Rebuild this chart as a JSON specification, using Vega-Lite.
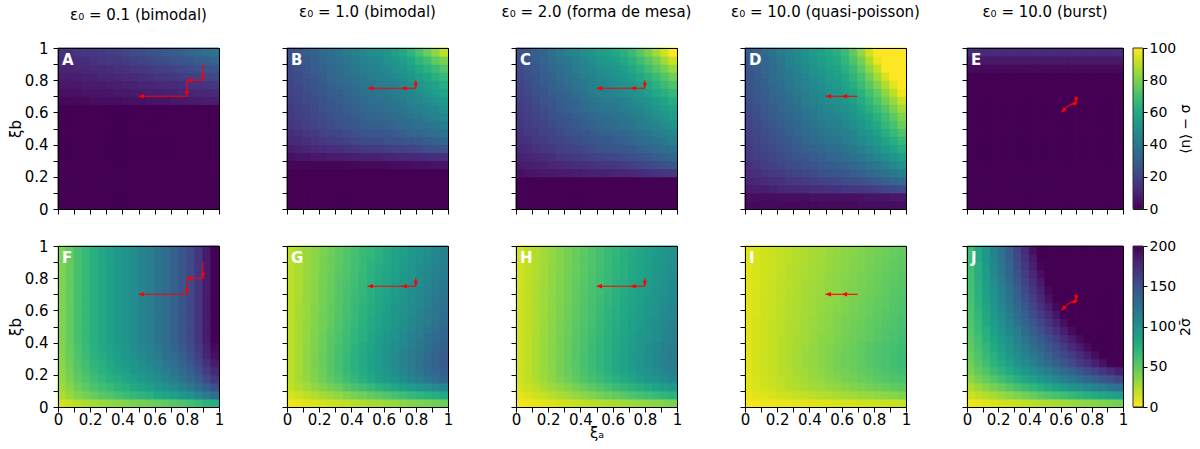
{
"$schema":"https://vega.github.io/schema/vega-lite/v6.json",
"background":"white",
"padding":{"left":7,"top":4,"right":5,"bottom":5},
"config":{
 "font":"DejaVu Sans",
 "view":{"stroke":"black","strokeWidth":1},
 "axis":{"domainColor":"black","tickColor":"black","labelColor":"black","labelFont":"DejaVu Sans","labelFontSize":15,"titleFont":"DejaVu Sans","titleFontSize":15,"titleFontWeight":"normal","titleColor":"black","tickSize":5,"labelPadding":3,"labelFlush":false,"labelOverlap":false,"grid":false},
 "axisX":{"labelPadding":0},
 "axisY":{"labelPadding":5},
 "title":{"font":"DejaVu Sans","fontSize":15,"fontWeight":"normal","color":"black","baseline":"alphabetic","offset":28}
},
"datasets":{
"grid":[
{"p":"A","j":0,"v":[0,0,0,0,0,0,0,0,0,0,0,0,0,0,0,0,0,0,0,0]},
{"p":"A","j":1,"v":[0,0,0,0,0,0,0,0,0,0,0,0,0,0,0,0,0,0,0,0]},
{"p":"A","j":2,"v":[0,0,0,0,0,0,0,0,0,0,0,0,0,0,0,0,0,0,0,0]},
{"p":"A","j":3,"v":[0,0,0,0,0,0,0,0,0,0,0,0,0,0,0,0,0,0,0,0]},
{"p":"A","j":4,"v":[0,0,0,0,0,0,0,0,0,0,0,0,0,0,0,0,0,0,0,0]},
{"p":"A","j":5,"v":[0,0,0,0,0,0,0,0,0,0,0,0,0,0,0,0,0,0,0,0]},
{"p":"A","j":6,"v":[0,0,0,0,0,0,0,0,0,0,0,0,0,0,0,0,0,0,0,0]},
{"p":"A","j":7,"v":[0,0,0,0,0,0,0,0,0,0,0,0,0,0,0,0,0,0,0,0]},
{"p":"A","j":8,"v":[0,0,0,0,0,0,0,0,0,0,0,0,0,0,0,0,0,0,0,0]},
{"p":"A","j":9,"v":[0,0,0,0,0,0,0,0,0,0,0,0,0,0,0,0,0,0,0,0]},
{"p":"A","j":10,"v":[0,0,0,0,0,0,0,0,0,0,0,0,0,0,0,0,0,0,0,0]},
{"p":"A","j":11,"v":[0,0,0,0,0,0,0,0,0,0,0,0,0,0,0,0,0,0,0,0]},
{"p":"A","j":12,"v":[0,0,0,0,0,0,0,0,0,0,0,0,0,0,0,0,0,0,0,0]},
{"p":"A","j":13,"v":[2,2,2,2,3,3,3,3,4,4,4,5,5,5,6,6,7,7,8,8]},
{"p":"A","j":14,"v":[4,4,4,5,5,5,5,6,6,7,7,8,8,9,9,10,10,11,11,12]},
{"p":"A","j":15,"v":[6,6,6,7,7,7,8,8,9,9,10,10,11,12,12,13,14,14,15,16]},
{"p":"A","j":16,"v":[8,8,8,9,9,10,10,11,12,12,13,14,15,15,16,17,18,19,20,21]},
{"p":"A","j":17,"v":[10,10,11,11,12,12,13,14,14,15,16,17,18,19,20,21,22,24,25,26]},
{"p":"A","j":18,"v":[12,12,13,13,14,15,16,16,17,19,20,21,22,23,25,26,27,29,30,32]},
{"p":"A","j":19,"v":[14,14,15,16,16,17,18,19,21,22,23,25,26,28,29,31,33,34,36,38]},
{"p":"B","j":0,"v":[0,0,0,0,0,0,0,0,0,0,0,0,0,0,0,0,0,0,0,0]},
{"p":"B","j":1,"v":[0,0,0,0,0,0,0,0,0,0,0,0,0,0,0,0,0,0,0,0]},
{"p":"B","j":2,"v":[0,0,0,0,0,0,0,0,0,0,0,0,0,0,0,0,0,0,0,0]},
{"p":"B","j":3,"v":[0,0,0,0,0,0,0,0,0,0,0,0,0,0,0,0,0,0,0,0]},
{"p":"B","j":4,"v":[0,0,0,0,0,0,0,0,0,0,0,0,0,0,0,0,0,0,0,0]},
{"p":"B","j":5,"v":[1,1,1,1,1,1,1,1,2,2,2,2,2,3,3,3,4,4,5,5]},
{"p":"B","j":6,"v":[4,5,5,6,6,7,7,8,8,9,9,9,10,10,11,11,12,12,13,14]},
{"p":"B","j":7,"v":[8,9,10,11,12,13,13,14,15,16,17,17,18,19,19,20,21,23,24,25]},
{"p":"B","j":8,"v":[11,12,13,15,16,17,18,19,21,22,23,23,24,25,26,27,28,29,31,32]},
{"p":"B","j":9,"v":[13,14,16,17,19,20,21,23,24,26,27,27,28,29,30,32,33,35,36,38]},
{"p":"B","j":10,"v":[15,17,18,20,21,23,24,26,27,29,30,30,31,32,34,35,37,38,40,42]},
{"p":"B","j":11,"v":[16,18,19,21,22,24,26,27,29,30,32,33,34,35,36,38,40,42,44,46]},
{"p":"B","j":12,"v":[17,19,20,22,24,26,27,29,31,32,34,35,36,37,39,41,43,45,47,50]},
{"p":"B","j":13,"v":[18,20,22,23,25,27,29,31,32,34,36,37,38,40,41,44,46,48,51,54]},
{"p":"B","j":14,"v":[19,21,23,25,27,29,30,32,34,36,38,39,40,42,44,46,49,52,55,58]},
{"p":"B","j":15,"v":[20,22,24,26,28,30,32,34,36,38,40,41,42,44,47,49,52,55,58,62]},
{"p":"B","j":16,"v":[21,23,25,27,29,32,34,36,38,40,42,43,45,47,49,52,56,59,63,67]},
{"p":"B","j":17,"v":[22,24,26,29,31,33,35,37,40,42,44,45,47,50,53,56,60,64,68,73]},
{"p":"B","j":18,"v":[23,25,28,30,32,35,37,39,41,44,46,47,50,53,56,60,65,69,75,80]},
{"p":"B","j":19,"v":[24,26,29,31,34,36,38,41,43,46,48,50,52,56,60,65,71,77,83,90]},
{"p":"C","j":0,"v":[0,0,0,0,0,0,0,0,0,0,0,0,0,0,0,0,0,0,0,0]},
{"p":"C","j":1,"v":[0,0,0,0,0,0,0,0,0,0,0,0,0,0,0,0,0,0,0,0]},
{"p":"C","j":2,"v":[0,0,0,0,0,0,0,0,0,0,0,0,0,0,0,0,0,0,0,0]},
{"p":"C","j":3,"v":[0,0,0,0,0,0,0,0,0,0,0,0,0,0,0,0,0,0,0,0]},
{"p":"C","j":4,"v":[4,5,5,6,6,7,7,8,8,9,9,9,10,10,11,12,13,14,15,16]},
{"p":"C","j":5,"v":[7,8,9,9,10,11,12,13,13,14,15,15,16,17,18,20,21,23,24,26]},
{"p":"C","j":6,"v":[9,10,11,12,13,15,16,17,18,19,20,21,21,23,24,25,27,29,31,33]},
{"p":"C","j":7,"v":[11,12,14,15,16,18,19,20,21,23,24,25,26,27,28,30,32,34,36,38]},
{"p":"C","j":8,"v":[13,14,16,17,19,20,21,23,24,26,27,28,29,30,32,34,36,38,40,43]},
{"p":"C","j":9,"v":[14,16,17,19,20,22,24,25,27,28,30,31,32,33,35,37,39,42,44,47]},
{"p":"C","j":10,"v":[15,17,19,20,22,24,26,28,29,31,33,34,35,37,38,41,43,45,48,51]},
{"p":"C","j":11,"v":[16,18,20,22,24,26,27,29,31,33,35,36,37,39,41,43,46,49,52,55]},
{"p":"C","j":12,"v":[17,19,21,23,25,28,30,32,34,36,38,39,40,42,44,46,49,52,55,58]},
{"p":"C","j":13,"v":[18,20,22,25,27,29,31,33,36,38,40,41,42,44,47,49,52,55,58,62]},
{"p":"C","j":14,"v":[19,21,24,26,29,31,33,36,38,41,43,44,46,48,50,53,56,60,63,67]},
{"p":"C","j":15,"v":[20,23,25,28,30,33,35,38,40,43,45,46,48,50,53,56,60,64,68,72]},
{"p":"C","j":16,"v":[21,24,26,29,31,34,37,39,42,44,47,48,50,53,56,60,64,68,73,78]},
{"p":"C","j":17,"v":[22,25,27,30,33,36,38,41,44,46,49,50,53,56,60,64,69,74,79,85]},
{"p":"C","j":18,"v":[23,26,29,32,35,38,40,43,46,49,52,54,56,60,64,69,74,79,86,92]},
{"p":"C","j":19,"v":[24,27,30,33,36,40,43,46,49,52,55,57,60,64,68,74,80,86,93,100]},
{"p":"D","j":0,"v":[2,2,2,2,2,2,2,2,2,2,2,2,2,2,3,3,3,3,3,3]},
{"p":"D","j":1,"v":[3,3,3,3,3,3,3,3,4,4,4,4,4,4,4,5,5,5,6,6]},
{"p":"D","j":2,"v":[7,8,8,9,10,11,11,12,13,13,14,14,15,16,16,17,18,20,21,22]},
{"p":"D","j":3,"v":[10,11,12,13,14,15,16,17,18,19,20,21,22,23,24,26,28,30,32,34]},
{"p":"D","j":4,"v":[12,13,15,16,17,19,20,21,22,24,25,26,27,29,30,33,35,37,40,43]},
{"p":"D","j":5,"v":[14,16,17,19,20,22,23,25,26,28,29,30,31,33,35,38,40,43,47,50]},
{"p":"D","j":6,"v":[16,18,19,21,22,24,26,27,29,30,32,33,35,37,39,42,45,49,52,56]},
{"p":"D","j":7,"v":[17,19,21,22,24,26,28,30,31,33,35,36,38,40,43,46,50,54,58,62]},
{"p":"D","j":8,"v":[18,20,22,24,26,28,30,32,34,36,38,39,41,44,47,50,54,58,62,67]},
{"p":"D","j":9,"v":[19,21,23,25,27,30,32,34,36,38,40,41,43,46,50,53,57,62,67,72]},
{"p":"D","j":10,"v":[20,22,24,27,29,31,33,35,38,40,42,43,46,49,52,57,61,66,71,77]},
{"p":"D","j":11,"v":[21,23,26,28,30,33,35,37,39,42,44,45,48,51,55,59,64,69,75,81]},
{"p":"D","j":12,"v":[22,24,27,29,32,34,36,39,41,44,46,48,50,54,58,63,68,73,80,86]},
{"p":"D","j":13,"v":[23,26,28,31,33,36,38,41,43,46,48,50,53,56,61,66,72,78,85,92]},
{"p":"D","j":14,"v":[24,27,29,32,34,37,40,42,45,47,50,52,55,59,64,70,76,83,90,98]},
{"p":"D","j":15,"v":[25,28,30,33,36,39,41,44,47,49,52,54,58,62,68,74,81,88,96,105]},
{"p":"D","j":16,"v":[25,28,31,34,37,40,42,45,48,51,54,56,60,65,71,78,86,94,103,112]},
{"p":"D","j":17,"v":[26,29,32,35,38,41,44,47,50,53,56,58,63,68,75,83,91,100,110,120]},
{"p":"D","j":18,"v":[27,30,33,36,39,43,46,49,52,55,58,61,66,72,79,88,97,107,118,130]},
{"p":"D","j":19,"v":[28,31,34,38,41,44,47,50,54,57,60,63,68,75,84,93,104,115,127,140]},
{"p":"E","j":0,"v":[0,0,0,0,0,0,0,0,0,0,0,0,0,0,0,0,0,0,0,0]},
{"p":"E","j":1,"v":[0,0,0,0,0,0,0,0,0,0,0,0,0,0,0,0,0,0,0,0]},
{"p":"E","j":2,"v":[0,0,0,0,0,0,0,0,0,0,0,0,0,0,0,0,0,0,0,0]},
{"p":"E","j":3,"v":[0,0,0,0,0,0,0,0,0,0,0,0,0,0,0,0,0,0,0,0]},
{"p":"E","j":4,"v":[0,0,0,0,0,0,0,0,0,0,0,0,0,0,0,0,0,0,0,0]},
{"p":"E","j":5,"v":[0,0,0,0,0,0,0,0,0,0,0,0,0,0,0,0,0,0,0,0]},
{"p":"E","j":6,"v":[0,0,0,0,0,0,0,0,0,0,0,0,0,0,0,0,0,0,0,0]},
{"p":"E","j":7,"v":[0,0,0,0,0,0,0,0,0,0,0,0,0,0,0,0,0,0,0,0]},
{"p":"E","j":8,"v":[0,0,0,0,0,0,0,0,0,0,0,0,0,0,0,0,0,0,0,0]},
{"p":"E","j":9,"v":[0,0,0,0,0,0,0,0,0,0,0,0,0,0,0,0,0,0,0,0]},
{"p":"E","j":10,"v":[0,0,0,0,0,0,0,0,0,0,0,0,0,0,0,0,0,0,0,0]},
{"p":"E","j":11,"v":[0,0,0,0,0,0,0,0,0,0,0,0,0,0,0,0,0,0,0,0]},
{"p":"E","j":12,"v":[0,0,0,0,0,0,0,0,0,0,0,0,0,0,0,0,0,0,0,0]},
{"p":"E","j":13,"v":[0,0,0,0,0,0,0,0,0,0,0,0,0,0,0,0,0,0,0,0]},
{"p":"E","j":14,"v":[0,0,0,0,0,0,0,0,0,0,0,0,0,0,0,0,0,0,0,0]},
{"p":"E","j":15,"v":[0,0,0,0,0,0,0,0,0,0,0,0,0,0,0,0,0,0,0,0]},
{"p":"E","j":16,"v":[0,0,0,0,0,0,0,0,0,0,0,0,0,0,0,0,0,0,0,0]},
{"p":"E","j":17,"v":[2,2,2,2,2,2,2,2,2,2,2,2,2,2,2,2,2,2,2,2]},
{"p":"E","j":18,"v":[6,6,6,6,6,6,6,6,6,6,6,6,6,6,6,6,6,6,6,6]},
{"p":"E","j":19,"v":[12,12,12,12,12,12,12,12,12,12,12,12,12,12,12,12,12,12,12,12]},
{"p":"F","j":0,"v":[14,18,22,25,28,30,33,35,37,40,42,44,47,49,52,56,60,65,71,76]},
{"p":"F","j":1,"v":[24,31,37,42,47,51,55,59,63,67,70,74,79,83,88,94,100,109,119,128]},
{"p":"F","j":2,"v":[29,36,44,50,56,61,65,70,74,79,84,88,93,99,105,112,119,129,141,152]},
{"p":"F","j":3,"v":[32,40,49,55,62,67,72,77,82,87,92,97,103,109,116,123,132,143,156,168]},
{"p":"F","j":4,"v":[34,43,52,59,66,71,77,82,87,93,98,103,109,116,123,131,140,151,166,178]},
{"p":"F","j":5,"v":[35,45,54,61,69,74,80,86,91,97,102,108,114,121,128,137,146,158,173,186]},
{"p":"F","j":6,"v":[36,46,56,63,71,77,83,88,94,100,106,111,118,125,132,141,151,163,179,192]},
{"p":"F","j":7,"v":[37,47,57,65,73,78,84,90,96,102,108,114,121,127,135,144,154,167,182,196]},
{"p":"F","j":8,"v":[38,48,58,66,74,80,86,92,98,104,110,116,123,130,138,147,157,170,186,200]},
{"p":"F","j":9,"v":[38,48,58,66,74,80,86,92,98,104,110,116,123,130,138,147,157,170,186,200]},
{"p":"F","j":10,"v":[38,48,58,66,74,80,86,92,98,104,110,116,123,130,138,147,157,170,186,200]},
{"p":"F","j":11,"v":[38,48,58,66,74,80,86,92,98,104,110,116,123,130,138,147,157,170,186,200]},
{"p":"F","j":12,"v":[38,48,58,66,74,80,86,92,98,104,110,116,123,130,138,147,157,170,186,200]},
{"p":"F","j":13,"v":[38,48,58,66,74,80,86,92,98,104,110,116,123,130,138,147,157,170,186,200]},
{"p":"F","j":14,"v":[38,48,58,66,74,80,86,92,98,104,110,116,123,130,138,147,157,170,186,200]},
{"p":"F","j":15,"v":[38,48,58,66,74,80,86,92,98,104,110,116,123,130,138,147,157,170,186,200]},
{"p":"F","j":16,"v":[38,48,58,66,74,80,86,92,98,104,110,116,123,130,138,147,157,170,186,200]},
{"p":"F","j":17,"v":[38,48,58,66,74,80,86,92,98,104,110,116,123,130,138,147,157,170,186,200]},
{"p":"F","j":18,"v":[38,48,58,66,74,80,86,92,98,104,110,116,123,130,138,147,157,170,186,200]},
{"p":"F","j":19,"v":[38,48,58,66,74,80,86,92,98,104,110,116,123,130,138,147,157,170,186,200]},
{"p":"G","j":0,"v":[5,7,9,11,13,16,18,20,22,24,26,28,30,32,35,37,39,41,43,45]},
{"p":"G","j":1,"v":[12,16,19,23,26,30,33,37,41,44,48,51,55,59,62,66,69,73,76,80]},
{"p":"G","j":2,"v":[18,23,28,33,37,42,47,52,57,62,66,71,76,81,86,91,96,100,105,110]},
{"p":"G","j":3,"v":[20,26,32,38,44,50,56,62,68,74,80,86,92,98,104,110,116,122,128,134]},
{"p":"G","j":4,"v":[20,26,33,39,45,52,58,65,71,77,84,90,96,103,109,116,122,128,135,141]},
{"p":"G","j":5,"v":[20,27,33,40,46,53,59,66,72,79,85,92,98,105,111,118,124,131,137,144]},
{"p":"G","j":6,"v":[20,26,33,39,46,52,59,65,72,78,85,91,98,104,111,117,124,130,137,143]},
{"p":"G","j":7,"v":[20,26,33,39,45,52,58,64,71,77,83,89,96,102,108,115,121,127,134,140]},
{"p":"G","j":8,"v":[20,26,32,38,45,51,57,63,69,75,82,88,94,100,106,112,119,125,131,137]},
{"p":"G","j":9,"v":[20,26,32,38,44,50,56,62,68,74,80,86,92,98,104,110,116,122,128,134]},
{"p":"G","j":10,"v":[20,26,32,37,43,49,55,61,66,72,78,84,89,95,101,107,113,118,124,130]},
{"p":"G","j":11,"v":[20,26,31,37,43,48,54,60,65,71,77,83,88,94,100,105,111,117,122,128]},
{"p":"G","j":12,"v":[20,26,31,37,42,48,53,59,65,70,76,81,87,93,98,104,109,115,120,126]},
{"p":"G","j":13,"v":[20,25,31,36,42,47,53,58,64,69,75,80,86,91,97,102,108,113,119,124]},
{"p":"G","j":14,"v":[20,25,31,36,41,47,52,58,63,68,74,79,84,90,95,101,106,111,117,122]},
{"p":"G","j":15,"v":[20,25,31,36,41,46,52,57,62,67,73,78,83,88,94,99,104,109,115,120]},
{"p":"G","j":16,"v":[20,25,30,35,41,46,51,56,61,66,72,77,82,87,92,97,103,108,113,118]},
{"p":"G","j":17,"v":[20,25,30,35,40,45,50,55,60,65,71,76,81,86,91,96,101,106,111,116]},
{"p":"G","j":18,"v":[20,25,30,35,40,45,50,55,60,65,69,74,79,84,89,94,99,104,109,114]},
{"p":"G","j":19,"v":[20,25,30,35,39,44,49,54,59,64,68,73,78,83,88,93,97,102,107,112]},
{"p":"H","j":0,"v":[3,5,7,9,11,13,15,17,19,21,22,24,26,28,30,32,34,36,38,40]},
{"p":"H","j":1,"v":[8,11,15,18,21,25,28,32,35,38,42,45,48,52,55,59,62,65,69,72]},
{"p":"H","j":2,"v":[12,16,20,25,29,33,37,41,46,50,54,58,63,67,71,75,79,84,88,92]},
{"p":"H","j":3,"v":[14,19,24,29,34,39,44,49,54,59,63,68,73,78,83,88,93,98,103,108]},
{"p":"H","j":4,"v":[14,19,25,30,35,41,46,51,57,62,67,73,78,83,88,94,99,104,110,115]},
{"p":"H","j":5,"v":[14,19,25,30,36,41,47,52,58,63,69,74,80,85,91,96,102,107,113,118]},
{"p":"H","j":6,"v":[14,19,25,30,36,41,47,52,58,63,69,74,80,85,91,96,102,107,113,118]},
{"p":"H","j":7,"v":[14,19,25,30,36,41,47,52,57,63,68,74,79,85,90,95,101,106,112,117]},
{"p":"H","j":8,"v":[14,19,25,30,35,41,46,51,57,62,67,73,78,83,88,94,99,104,110,115]},
{"p":"H","j":9,"v":[14,19,24,30,35,40,45,51,56,61,66,71,77,82,87,92,97,103,108,113]},
{"p":"H","j":10,"v":[14,19,24,29,35,40,45,50,55,60,66,71,76,81,86,91,97,102,107,112]},
{"p":"H","j":11,"v":[14,19,24,29,34,39,44,49,54,59,65,70,75,80,85,90,95,100,105,110]},
{"p":"H","j":12,"v":[14,19,24,29,34,39,44,49,54,59,64,69,74,79,84,89,94,99,104,109]},
{"p":"H","j":13,"v":[14,19,24,29,34,38,43,48,53,58,63,68,73,78,83,87,92,97,102,107]},
{"p":"H","j":14,"v":[14,19,24,29,33,38,43,48,53,58,62,67,72,77,82,87,91,96,101,106]},
{"p":"H","j":15,"v":[14,19,24,28,33,38,43,48,52,57,62,67,72,76,81,86,91,95,100,105]},
{"p":"H","j":16,"v":[14,19,23,28,33,37,42,47,51,56,61,66,70,75,80,84,89,94,98,103]},
{"p":"H","j":17,"v":[14,19,23,28,33,37,42,46,51,56,60,65,70,74,79,83,88,93,97,102]},
{"p":"H","j":18,"v":[14,19,23,28,32,37,41,46,51,55,60,64,69,74,78,83,87,92,96,101]},
{"p":"H","j":19,"v":[14,19,23,28,32,37,41,46,50,55,59,64,68,73,77,82,86,91,95,100]},
{"p":"I","j":0,"v":[3,4,5,5,6,7,8,9,9,10,11,12,13,13,14,15,16,16,17,18]},
{"p":"I","j":1,"v":[7,9,10,12,14,15,17,18,20,22,23,25,27,28,30,31,33,35,36,38]},
{"p":"I","j":2,"v":[10,12,14,16,18,21,23,25,27,29,31,33,35,37,39,42,44,46,48,50]},
{"p":"I","j":3,"v":[10,12,15,17,20,22,25,27,30,32,35,37,40,42,45,47,50,52,55,57]},
{"p":"I","j":4,"v":[10,13,15,18,21,23,26,29,31,34,37,40,42,45,48,50,53,56,58,61]},
{"p":"I","j":5,"v":[10,13,16,18,21,24,27,30,32,35,38,41,44,46,49,52,55,57,60,63]},
{"p":"I","j":6,"v":[10,13,16,18,21,24,27,30,32,35,38,41,44,46,49,52,55,57,60,63]},
{"p":"I","j":7,"v":[10,13,15,18,21,24,26,29,32,35,37,40,43,46,48,51,54,57,59,62]},
{"p":"I","j":8,"v":[10,13,15,18,21,23,26,28,31,34,36,39,42,44,47,49,52,55,57,60]},
{"p":"I","j":9,"v":[10,13,15,18,20,23,25,28,31,33,36,38,41,44,46,49,51,54,56,59]},
{"p":"I","j":10,"v":[10,13,15,18,20,23,25,28,30,33,35,38,40,43,45,48,50,53,55,58]},
{"p":"I","j":11,"v":[10,12,15,17,20,22,25,27,29,32,34,37,39,41,44,46,49,51,54,56]},
{"p":"I","j":12,"v":[10,12,15,17,19,22,24,27,29,31,34,36,38,41,43,46,48,50,53,55]},
{"p":"I","j":13,"v":[10,12,15,17,19,22,24,26,29,31,33,35,38,40,42,45,47,49,52,54]},
{"p":"I","j":14,"v":[10,12,15,17,19,21,24,26,28,30,33,35,37,39,42,44,46,48,51,53]},
{"p":"I","j":15,"v":[10,12,14,17,19,21,23,26,28,30,32,34,37,39,41,43,45,48,50,52]},
{"p":"I","j":16,"v":[10,12,14,16,19,21,23,25,27,29,32,34,36,38,40,42,45,47,49,51]},
{"p":"I","j":17,"v":[10,12,14,16,18,21,23,25,27,29,31,33,35,37,39,42,44,46,48,50]},
{"p":"I","j":18,"v":[10,12,14,16,18,20,22,24,26,28,31,33,35,37,39,41,43,45,47,49]},
{"p":"I","j":19,"v":[10,12,14,16,18,20,22,24,26,28,30,32,34,36,38,40,42,44,46,48]},
{"p":"J","j":0,"v":[5,7,9,11,13,15,17,19,21,23,25,26,28,30,32,34,36,38,40,42]},
{"p":"J","j":1,"v":[15,19,23,27,31,35,39,43,47,51,55,58,62,66,70,74,78,82,86,90]},
{"p":"J","j":2,"v":[25,30,36,41,47,52,58,63,68,74,79,85,90,96,101,106,112,117,123,128]},
{"p":"J","j":3,"v":[34,41,47,54,61,67,74,80,87,94,100,107,114,120,127,134,140,147,153,160]},
{"p":"J","j":4,"v":[40,48,55,63,71,78,86,93,101,109,116,124,132,139,147,155,162,170,177,185]},
{"p":"J","j":5,"v":[44,53,61,70,79,87,96,104,113,122,130,139,147,156,165,173,182,191,199,200]},
{"p":"J","j":6,"v":[47,56,65,74,84,93,102,111,120,129,139,148,157,166,175,184,194,200,200,200]},
{"p":"J","j":7,"v":[49,59,68,78,88,98,107,117,127,137,146,156,166,176,185,195,200,200,200,200]},
{"p":"J","j":8,"v":[51,61,72,82,92,102,113,123,133,144,154,164,174,185,195,200,200,200,200,200]},
{"p":"J","j":9,"v":[53,64,75,86,97,107,118,129,140,151,162,173,184,195,200,200,200,200,200,200]},
{"p":"J","j":10,"v":[55,66,78,89,101,112,124,135,146,158,169,181,192,200,200,200,200,200,200,200]},
{"p":"J","j":11,"v":[56,68,80,92,104,117,129,141,153,165,177,189,200,200,200,200,200,200,200,200]},
{"p":"J","j":12,"v":[57,70,82,95,108,120,133,146,158,171,184,196,200,200,200,200,200,200,200,200]},
{"p":"J","j":13,"v":[58,71,85,98,111,124,138,151,164,177,191,200,200,200,200,200,200,200,200,200]},
{"p":"J","j":14,"v":[59,73,86,100,114,127,141,155,168,182,196,200,200,200,200,200,200,200,200,200]},
{"p":"J","j":15,"v":[60,74,88,102,117,131,145,159,173,187,200,200,200,200,200,200,200,200,200,200]},
{"p":"J","j":16,"v":[61,76,90,105,120,134,149,163,178,193,200,200,200,200,200,200,200,200,200,200]},
{"p":"J","j":17,"v":[61,76,92,107,122,137,153,168,183,198,200,200,200,200,200,200,200,200,200,200]},
{"p":"J","j":18,"v":[62,78,93,109,124,140,155,171,186,200,200,200,200,200,200,200,200,200,200,200]},
{"p":"J","j":19,"v":[62,78,94,111,127,143,159,176,192,200,200,200,200,200,200,200,200,200,200,200]}
],
"arrows":[
{"c":1,"x":0.9,"y":0.9,"x2":0.9,"y2":0.8,"h":true},
{"c":1,"x":0.9,"y":0.8,"x2":0.8,"y2":0.8,"h":true},
{"c":1,"x":0.8,"y":0.8,"x2":0.8,"y2":0.7,"h":true},
{"c":1,"x":0.8,"y":0.7,"x2":0.5,"y2":0.7,"h":true},
{"c":2,"x":0.8,"y":0.8,"x2":0.8,"y2":0.75,"h":true},
{"c":2,"x":0.8,"y":0.75,"x2":0.71,"y2":0.75,"h":true},
{"c":2,"x":0.71,"y":0.75,"x2":0.5,"y2":0.75,"h":true},
{"c":3,"x":0.8,"y":0.8,"x2":0.8,"y2":0.75,"h":true},
{"c":3,"x":0.8,"y":0.75,"x2":0.71,"y2":0.75,"h":true},
{"c":3,"x":0.71,"y":0.75,"x2":0.5,"y2":0.75,"h":true},
{"c":4,"x":0.7,"y":0.7,"x2":0.6,"y2":0.7,"h":true},
{"c":4,"x":0.6,"y":0.7,"x2":0.5,"y2":0.7,"h":true},
{"c":5,"x":0.7,"y":0.7,"x2":0.7,"y2":0.66,"h":true},
{"c":5,"x":0.71,"y":0.66,"x2":0.665,"y2":0.65,"h":true},
{"c":5,"x":0.665,"y":0.65,"x2":0.64,"y2":0.635,"h":false},
{"c":5,"x":0.64,"y":0.635,"x2":0.605,"y2":0.6,"h":true}
]
},
"hconcat":[
{"concat":[
{"width":161,"height":161,"title":{"text":"ε₀ = 0.1 (bimodal)","dy":10},
"layer":[
{"data":{"name":"grid"},"transform":[{"filter":"datum.p==='A'"},{"flatten":["v"]},{"window":[{"op":"row_number","as":"i"}],"groupby":["j"]}],
"mark":{"type":"rect","strokeWidth":1},
"encoding":{"x":{"field":"i","type":"ordinal","axis":{"orient":"top","ticks":false,"labels":false,"domain":true,"title":null,"zindex":1},"scale":{"paddingInner":0,"paddingOuter":0}},"y":{"field":"j","type":"ordinal","axis":{"orient":"right","ticks":false,"labels":false,"domain":true,"title":null,"zindex":1},"sort":"descending","scale":{"paddingInner":0,"paddingOuter":0}},
"color":{"field":"v","type":"quantitative","scale":{"scheme":"viridis","domain":[0,100],"clamp":true},"legend":null},
"stroke":{"field":"v","type":"quantitative","scale":{"scheme":"viridis","domain":[0,100],"clamp":true},"legend":null}}},
{"data":{"values":[{"t":"A"}]},"mark":{"type":"text","color":"white","fontWeight":"bold","fontSize":15,"align":"left","baseline":"top","dx":4,"dy":5},
"encoding":{"x":{"datum":0,"type":"quantitative","scale":{"domain":[0,1],"nice":false,"zero":false},"axis":null},"y":{"datum":1,"type":"quantitative","scale":{"domain":[0,1],"nice":false,"zero":false},"axis":null},"text":{"field":"t"}}},
{"data":{"name":"arrows"},"transform":[{"filter":"datum.c===1"}],"mark":{"type":"rule","color":"red","strokeWidth":1.1},
"encoding":{"x":{"field":"x","type":"quantitative","scale":{"domain":[0,1],"nice":false,"zero":false},"axis":{"values":[0,0.1,0.2,0.3,0.4,0.5,0.6,0.7,0.8,0.9,1],"labels":false,"title":null,"zindex":1}},
"y":{"field":"y","type":"quantitative","scale":{"domain":[0,1],"nice":false,"zero":false},"axis":{"values":[0,0.1,0.2,0.3,0.4,0.5,0.6,0.7,0.8,0.9,1],"labelExpr":"round(datum.value*10)%2===0 ? format(datum.value,'~g') : ''","title":"ξb","titlePadding":1,"zindex":1}},
"x2":{"field":"x2"},"y2":{"field":"y2"}}},
{"data":{"name":"arrows"},"transform":[{"filter":"datum.c===1 && datum.h"},{"calculate":"atan2(datum.x2-datum.x,datum.y2-datum.y)*180/PI","as":"ang"}],"mark":{"type":"point","shape":"M0,0L0.8,2L-0.8,2Z","filled":true,"color":"red","size":30,"opacity":1},
"encoding":{"x":{"field":"x2","type":"quantitative","scale":{"domain":[0,1],"nice":false,"zero":false},"axis":null},"y":{"field":"y2","type":"quantitative","scale":{"domain":[0,1],"nice":false,"zero":false},"axis":null},"angle":{"field":"ang","type":"quantitative","scale":null}}}
],
"resolve":{"scale":{"x":"independent","y":"independent"}}},
{"width":161,"height":161,"title":{"text":"ε₀ = 1.0 (bimodal)"},
"layer":[
{"data":{"name":"grid"},"transform":[{"filter":"datum.p==='B'"},{"flatten":["v"]},{"window":[{"op":"row_number","as":"i"}],"groupby":["j"]}],
"mark":{"type":"rect","strokeWidth":1},
"encoding":{"x":{"field":"i","type":"ordinal","axis":{"orient":"top","ticks":false,"labels":false,"domain":true,"title":null,"zindex":1},"scale":{"paddingInner":0,"paddingOuter":0}},"y":{"field":"j","type":"ordinal","axis":{"orient":"right","ticks":false,"labels":false,"domain":true,"title":null,"zindex":1},"sort":"descending","scale":{"paddingInner":0,"paddingOuter":0}},
"color":{"field":"v","type":"quantitative","scale":{"scheme":"viridis","domain":[0,100],"clamp":true},"legend":null},
"stroke":{"field":"v","type":"quantitative","scale":{"scheme":"viridis","domain":[0,100],"clamp":true},"legend":null}}},
{"data":{"values":[{"t":"B"}]},"mark":{"type":"text","color":"white","fontWeight":"bold","fontSize":15,"align":"left","baseline":"top","dx":4,"dy":5},
"encoding":{"x":{"datum":0,"type":"quantitative","scale":{"domain":[0,1],"nice":false,"zero":false},"axis":null},"y":{"datum":1,"type":"quantitative","scale":{"domain":[0,1],"nice":false,"zero":false},"axis":null},"text":{"field":"t"}}},
{"data":{"name":"arrows"},"transform":[{"filter":"datum.c===2"}],"mark":{"type":"rule","color":"red","strokeWidth":1.1},
"encoding":{"x":{"field":"x","type":"quantitative","scale":{"domain":[0,1],"nice":false,"zero":false},"axis":{"values":[0,0.1,0.2,0.3,0.4,0.5,0.6,0.7,0.8,0.9,1],"labels":false,"title":null,"zindex":1}},
"y":{"field":"y","type":"quantitative","scale":{"domain":[0,1],"nice":false,"zero":false},"axis":{"values":[0,0.1,0.2,0.3,0.4,0.5,0.6,0.7,0.8,0.9,1],"labels":false,"title":null,"zindex":1}},
"x2":{"field":"x2"},"y2":{"field":"y2"}}},
{"data":{"name":"arrows"},"transform":[{"filter":"datum.c===2 && datum.h"},{"calculate":"atan2(datum.x2-datum.x,datum.y2-datum.y)*180/PI","as":"ang"}],"mark":{"type":"point","shape":"M0,0L0.8,2L-0.8,2Z","filled":true,"color":"red","size":30,"opacity":1},
"encoding":{"x":{"field":"x2","type":"quantitative","scale":{"domain":[0,1],"nice":false,"zero":false},"axis":null},"y":{"field":"y2","type":"quantitative","scale":{"domain":[0,1],"nice":false,"zero":false},"axis":null},"angle":{"field":"ang","type":"quantitative","scale":null}}}
],
"resolve":{"scale":{"x":"independent","y":"independent"}}},
{"width":161,"height":161,"title":{"text":"ε₀ = 2.0 (forma de mesa)"},
"layer":[
{"data":{"name":"grid"},"transform":[{"filter":"datum.p==='C'"},{"flatten":["v"]},{"window":[{"op":"row_number","as":"i"}],"groupby":["j"]}],
"mark":{"type":"rect","strokeWidth":1},
"encoding":{"x":{"field":"i","type":"ordinal","axis":{"orient":"top","ticks":false,"labels":false,"domain":true,"title":null,"zindex":1},"scale":{"paddingInner":0,"paddingOuter":0}},"y":{"field":"j","type":"ordinal","axis":{"orient":"right","ticks":false,"labels":false,"domain":true,"title":null,"zindex":1},"sort":"descending","scale":{"paddingInner":0,"paddingOuter":0}},
"color":{"field":"v","type":"quantitative","scale":{"scheme":"viridis","domain":[0,100],"clamp":true},"legend":null},
"stroke":{"field":"v","type":"quantitative","scale":{"scheme":"viridis","domain":[0,100],"clamp":true},"legend":null}}},
{"data":{"values":[{"t":"C"}]},"mark":{"type":"text","color":"white","fontWeight":"bold","fontSize":15,"align":"left","baseline":"top","dx":4,"dy":5},
"encoding":{"x":{"datum":0,"type":"quantitative","scale":{"domain":[0,1],"nice":false,"zero":false},"axis":null},"y":{"datum":1,"type":"quantitative","scale":{"domain":[0,1],"nice":false,"zero":false},"axis":null},"text":{"field":"t"}}},
{"data":{"name":"arrows"},"transform":[{"filter":"datum.c===3"}],"mark":{"type":"rule","color":"red","strokeWidth":1.1},
"encoding":{"x":{"field":"x","type":"quantitative","scale":{"domain":[0,1],"nice":false,"zero":false},"axis":{"values":[0,0.1,0.2,0.3,0.4,0.5,0.6,0.7,0.8,0.9,1],"labels":false,"title":null,"zindex":1}},
"y":{"field":"y","type":"quantitative","scale":{"domain":[0,1],"nice":false,"zero":false},"axis":{"values":[0,0.1,0.2,0.3,0.4,0.5,0.6,0.7,0.8,0.9,1],"labels":false,"title":null,"zindex":1}},
"x2":{"field":"x2"},"y2":{"field":"y2"}}},
{"data":{"name":"arrows"},"transform":[{"filter":"datum.c===3 && datum.h"},{"calculate":"atan2(datum.x2-datum.x,datum.y2-datum.y)*180/PI","as":"ang"}],"mark":{"type":"point","shape":"M0,0L0.8,2L-0.8,2Z","filled":true,"color":"red","size":30,"opacity":1},
"encoding":{"x":{"field":"x2","type":"quantitative","scale":{"domain":[0,1],"nice":false,"zero":false},"axis":null},"y":{"field":"y2","type":"quantitative","scale":{"domain":[0,1],"nice":false,"zero":false},"axis":null},"angle":{"field":"ang","type":"quantitative","scale":null}}}
],
"resolve":{"scale":{"x":"independent","y":"independent"}}},
{"width":161,"height":161,"title":{"text":"ε₀ = 10.0 (quasi-poisson)"},
"layer":[
{"data":{"name":"grid"},"transform":[{"filter":"datum.p==='D'"},{"flatten":["v"]},{"window":[{"op":"row_number","as":"i"}],"groupby":["j"]}],
"mark":{"type":"rect","strokeWidth":1},
"encoding":{"x":{"field":"i","type":"ordinal","axis":{"orient":"top","ticks":false,"labels":false,"domain":true,"title":null,"zindex":1},"scale":{"paddingInner":0,"paddingOuter":0}},"y":{"field":"j","type":"ordinal","axis":{"orient":"right","ticks":false,"labels":false,"domain":true,"title":null,"zindex":1},"sort":"descending","scale":{"paddingInner":0,"paddingOuter":0}},
"color":{"field":"v","type":"quantitative","scale":{"scheme":"viridis","domain":[0,100],"clamp":true},"legend":null},
"stroke":{"field":"v","type":"quantitative","scale":{"scheme":"viridis","domain":[0,100],"clamp":true},"legend":null}}},
{"data":{"values":[{"t":"D"}]},"mark":{"type":"text","color":"white","fontWeight":"bold","fontSize":15,"align":"left","baseline":"top","dx":4,"dy":5},
"encoding":{"x":{"datum":0,"type":"quantitative","scale":{"domain":[0,1],"nice":false,"zero":false},"axis":null},"y":{"datum":1,"type":"quantitative","scale":{"domain":[0,1],"nice":false,"zero":false},"axis":null},"text":{"field":"t"}}},
{"data":{"name":"arrows"},"transform":[{"filter":"datum.c===4"}],"mark":{"type":"rule","color":"red","strokeWidth":1.1},
"encoding":{"x":{"field":"x","type":"quantitative","scale":{"domain":[0,1],"nice":false,"zero":false},"axis":{"values":[0,0.1,0.2,0.3,0.4,0.5,0.6,0.7,0.8,0.9,1],"labels":false,"title":null,"zindex":1}},
"y":{"field":"y","type":"quantitative","scale":{"domain":[0,1],"nice":false,"zero":false},"axis":{"values":[0,0.1,0.2,0.3,0.4,0.5,0.6,0.7,0.8,0.9,1],"labels":false,"title":null,"zindex":1}},
"x2":{"field":"x2"},"y2":{"field":"y2"}}},
{"data":{"name":"arrows"},"transform":[{"filter":"datum.c===4 && datum.h"},{"calculate":"atan2(datum.x2-datum.x,datum.y2-datum.y)*180/PI","as":"ang"}],"mark":{"type":"point","shape":"M0,0L0.8,2L-0.8,2Z","filled":true,"color":"red","size":30,"opacity":1},
"encoding":{"x":{"field":"x2","type":"quantitative","scale":{"domain":[0,1],"nice":false,"zero":false},"axis":null},"y":{"field":"y2","type":"quantitative","scale":{"domain":[0,1],"nice":false,"zero":false},"axis":null},"angle":{"field":"ang","type":"quantitative","scale":null}}}
],
"resolve":{"scale":{"x":"independent","y":"independent"}}},
{"width":161,"height":161,
"layer":[
{"data":{"name":"grid"},"transform":[{"filter":"datum.p==='F'"},{"flatten":["v"]},{"window":[{"op":"row_number","as":"i"}],"groupby":["j"]}],
"mark":{"type":"rect","strokeWidth":1},
"encoding":{"x":{"field":"i","type":"ordinal","axis":{"orient":"top","ticks":false,"labels":false,"domain":true,"title":null,"zindex":1},"scale":{"paddingInner":0,"paddingOuter":0}},"y":{"field":"j","type":"ordinal","axis":{"orient":"right","ticks":false,"labels":false,"domain":true,"title":null,"zindex":1},"sort":"descending","scale":{"paddingInner":0,"paddingOuter":0}},
"color":{"field":"v","type":"quantitative","scale":{"scheme":"viridis","reverse":true,"domain":[0,200],"clamp":true},"legend":null},
"stroke":{"field":"v","type":"quantitative","scale":{"scheme":"viridis","reverse":true,"domain":[0,200],"clamp":true},"legend":null}}},
{"data":{"values":[{"t":"F"}]},"mark":{"type":"text","color":"white","fontWeight":"bold","fontSize":15,"align":"left","baseline":"top","dx":4,"dy":5},
"encoding":{"x":{"datum":0,"type":"quantitative","scale":{"domain":[0,1],"nice":false,"zero":false},"axis":null},"y":{"datum":1,"type":"quantitative","scale":{"domain":[0,1],"nice":false,"zero":false},"axis":null},"text":{"field":"t"}}},
{"data":{"name":"arrows"},"transform":[{"filter":"datum.c===1"}],"mark":{"type":"rule","color":"red","strokeWidth":1.1},
"encoding":{"x":{"field":"x","type":"quantitative","scale":{"domain":[0,1],"nice":false,"zero":false},"axis":{"values":[0,0.1,0.2,0.3,0.4,0.5,0.6,0.7,0.8,0.9,1],"labelExpr":"round(datum.value*10)%2===0 ? format(datum.value,'~g') : ''","title":null,"zindex":1}},
"y":{"field":"y","type":"quantitative","scale":{"domain":[0,1],"nice":false,"zero":false},"axis":{"values":[0,0.1,0.2,0.3,0.4,0.5,0.6,0.7,0.8,0.9,1],"labelExpr":"round(datum.value*10)%2===0 ? format(datum.value,'~g') : ''","title":"ξb","titlePadding":1,"zindex":1}},
"x2":{"field":"x2"},"y2":{"field":"y2"}}},
{"data":{"name":"arrows"},"transform":[{"filter":"datum.c===1 && datum.h"},{"calculate":"atan2(datum.x2-datum.x,datum.y2-datum.y)*180/PI","as":"ang"}],"mark":{"type":"point","shape":"M0,0L0.8,2L-0.8,2Z","filled":true,"color":"red","size":30,"opacity":1},
"encoding":{"x":{"field":"x2","type":"quantitative","scale":{"domain":[0,1],"nice":false,"zero":false},"axis":null},"y":{"field":"y2","type":"quantitative","scale":{"domain":[0,1],"nice":false,"zero":false},"axis":null},"angle":{"field":"ang","type":"quantitative","scale":null}}}
],
"resolve":{"scale":{"x":"independent","y":"independent"}}},
{"width":161,"height":161,
"layer":[
{"data":{"name":"grid"},"transform":[{"filter":"datum.p==='G'"},{"flatten":["v"]},{"window":[{"op":"row_number","as":"i"}],"groupby":["j"]}],
"mark":{"type":"rect","strokeWidth":1},
"encoding":{"x":{"field":"i","type":"ordinal","axis":{"orient":"top","ticks":false,"labels":false,"domain":true,"title":null,"zindex":1},"scale":{"paddingInner":0,"paddingOuter":0}},"y":{"field":"j","type":"ordinal","axis":{"orient":"right","ticks":false,"labels":false,"domain":true,"title":null,"zindex":1},"sort":"descending","scale":{"paddingInner":0,"paddingOuter":0}},
"color":{"field":"v","type":"quantitative","scale":{"scheme":"viridis","reverse":true,"domain":[0,200],"clamp":true},"legend":null},
"stroke":{"field":"v","type":"quantitative","scale":{"scheme":"viridis","reverse":true,"domain":[0,200],"clamp":true},"legend":null}}},
{"data":{"values":[{"t":"G"}]},"mark":{"type":"text","color":"white","fontWeight":"bold","fontSize":15,"align":"left","baseline":"top","dx":4,"dy":5},
"encoding":{"x":{"datum":0,"type":"quantitative","scale":{"domain":[0,1],"nice":false,"zero":false},"axis":null},"y":{"datum":1,"type":"quantitative","scale":{"domain":[0,1],"nice":false,"zero":false},"axis":null},"text":{"field":"t"}}},
{"data":{"name":"arrows"},"transform":[{"filter":"datum.c===2"}],"mark":{"type":"rule","color":"red","strokeWidth":1.1},
"encoding":{"x":{"field":"x","type":"quantitative","scale":{"domain":[0,1],"nice":false,"zero":false},"axis":{"values":[0,0.1,0.2,0.3,0.4,0.5,0.6,0.7,0.8,0.9,1],"labelExpr":"round(datum.value*10)%2===0 ? format(datum.value,'~g') : ''","title":null,"zindex":1}},
"y":{"field":"y","type":"quantitative","scale":{"domain":[0,1],"nice":false,"zero":false},"axis":{"values":[0,0.1,0.2,0.3,0.4,0.5,0.6,0.7,0.8,0.9,1],"labels":false,"title":null,"zindex":1}},
"x2":{"field":"x2"},"y2":{"field":"y2"}}},
{"data":{"name":"arrows"},"transform":[{"filter":"datum.c===2 && datum.h"},{"calculate":"atan2(datum.x2-datum.x,datum.y2-datum.y)*180/PI","as":"ang"}],"mark":{"type":"point","shape":"M0,0L0.8,2L-0.8,2Z","filled":true,"color":"red","size":30,"opacity":1},
"encoding":{"x":{"field":"x2","type":"quantitative","scale":{"domain":[0,1],"nice":false,"zero":false},"axis":null},"y":{"field":"y2","type":"quantitative","scale":{"domain":[0,1],"nice":false,"zero":false},"axis":null},"angle":{"field":"ang","type":"quantitative","scale":null}}}
],
"resolve":{"scale":{"x":"independent","y":"independent"}}},
{"width":161,"height":161,
"layer":[
{"data":{"name":"grid"},"transform":[{"filter":"datum.p==='H'"},{"flatten":["v"]},{"window":[{"op":"row_number","as":"i"}],"groupby":["j"]}],
"mark":{"type":"rect","strokeWidth":1},
"encoding":{"x":{"field":"i","type":"ordinal","axis":{"orient":"top","ticks":false,"labels":false,"domain":true,"title":null,"zindex":1},"scale":{"paddingInner":0,"paddingOuter":0}},"y":{"field":"j","type":"ordinal","axis":{"orient":"right","ticks":false,"labels":false,"domain":true,"title":null,"zindex":1},"sort":"descending","scale":{"paddingInner":0,"paddingOuter":0}},
"color":{"field":"v","type":"quantitative","scale":{"scheme":"viridis","reverse":true,"domain":[0,200],"clamp":true},"legend":null},
"stroke":{"field":"v","type":"quantitative","scale":{"scheme":"viridis","reverse":true,"domain":[0,200],"clamp":true},"legend":null}}},
{"data":{"values":[{"t":"H"}]},"mark":{"type":"text","color":"white","fontWeight":"bold","fontSize":15,"align":"left","baseline":"top","dx":4,"dy":5},
"encoding":{"x":{"datum":0,"type":"quantitative","scale":{"domain":[0,1],"nice":false,"zero":false},"axis":null},"y":{"datum":1,"type":"quantitative","scale":{"domain":[0,1],"nice":false,"zero":false},"axis":null},"text":{"field":"t"}}},
{"data":{"name":"arrows"},"transform":[{"filter":"datum.c===3"}],"mark":{"type":"rule","color":"red","strokeWidth":1.1},
"encoding":{"x":{"field":"x","type":"quantitative","scale":{"domain":[0,1],"nice":false,"zero":false},"axis":{"values":[0,0.1,0.2,0.3,0.4,0.5,0.6,0.7,0.8,0.9,1],"labelExpr":"round(datum.value*10)%2===0 ? format(datum.value,'~g') : ''","title":"ξₐ","titlePadding":-2,"zindex":1}},
"y":{"field":"y","type":"quantitative","scale":{"domain":[0,1],"nice":false,"zero":false},"axis":{"values":[0,0.1,0.2,0.3,0.4,0.5,0.6,0.7,0.8,0.9,1],"labels":false,"title":null,"zindex":1}},
"x2":{"field":"x2"},"y2":{"field":"y2"}}},
{"data":{"name":"arrows"},"transform":[{"filter":"datum.c===3 && datum.h"},{"calculate":"atan2(datum.x2-datum.x,datum.y2-datum.y)*180/PI","as":"ang"}],"mark":{"type":"point","shape":"M0,0L0.8,2L-0.8,2Z","filled":true,"color":"red","size":30,"opacity":1},
"encoding":{"x":{"field":"x2","type":"quantitative","scale":{"domain":[0,1],"nice":false,"zero":false},"axis":null},"y":{"field":"y2","type":"quantitative","scale":{"domain":[0,1],"nice":false,"zero":false},"axis":null},"angle":{"field":"ang","type":"quantitative","scale":null}}}
],
"resolve":{"scale":{"x":"independent","y":"independent"}}},
{"width":161,"height":161,
"layer":[
{"data":{"name":"grid"},"transform":[{"filter":"datum.p==='I'"},{"flatten":["v"]},{"window":[{"op":"row_number","as":"i"}],"groupby":["j"]}],
"mark":{"type":"rect","strokeWidth":1},
"encoding":{"x":{"field":"i","type":"ordinal","axis":{"orient":"top","ticks":false,"labels":false,"domain":true,"title":null,"zindex":1},"scale":{"paddingInner":0,"paddingOuter":0}},"y":{"field":"j","type":"ordinal","axis":{"orient":"right","ticks":false,"labels":false,"domain":true,"title":null,"zindex":1},"sort":"descending","scale":{"paddingInner":0,"paddingOuter":0}},
"color":{"field":"v","type":"quantitative","scale":{"scheme":"viridis","reverse":true,"domain":[0,200],"clamp":true},"legend":null},
"stroke":{"field":"v","type":"quantitative","scale":{"scheme":"viridis","reverse":true,"domain":[0,200],"clamp":true},"legend":null}}},
{"data":{"values":[{"t":"I"}]},"mark":{"type":"text","color":"white","fontWeight":"bold","fontSize":15,"align":"left","baseline":"top","dx":4,"dy":5},
"encoding":{"x":{"datum":0,"type":"quantitative","scale":{"domain":[0,1],"nice":false,"zero":false},"axis":null},"y":{"datum":1,"type":"quantitative","scale":{"domain":[0,1],"nice":false,"zero":false},"axis":null},"text":{"field":"t"}}},
{"data":{"name":"arrows"},"transform":[{"filter":"datum.c===4"}],"mark":{"type":"rule","color":"red","strokeWidth":1.1},
"encoding":{"x":{"field":"x","type":"quantitative","scale":{"domain":[0,1],"nice":false,"zero":false},"axis":{"values":[0,0.1,0.2,0.3,0.4,0.5,0.6,0.7,0.8,0.9,1],"labelExpr":"round(datum.value*10)%2===0 ? format(datum.value,'~g') : ''","title":null,"zindex":1}},
"y":{"field":"y","type":"quantitative","scale":{"domain":[0,1],"nice":false,"zero":false},"axis":{"values":[0,0.1,0.2,0.3,0.4,0.5,0.6,0.7,0.8,0.9,1],"labels":false,"title":null,"zindex":1}},
"x2":{"field":"x2"},"y2":{"field":"y2"}}},
{"data":{"name":"arrows"},"transform":[{"filter":"datum.c===4 && datum.h"},{"calculate":"atan2(datum.x2-datum.x,datum.y2-datum.y)*180/PI","as":"ang"}],"mark":{"type":"point","shape":"M0,0L0.8,2L-0.8,2Z","filled":true,"color":"red","size":30,"opacity":1},
"encoding":{"x":{"field":"x2","type":"quantitative","scale":{"domain":[0,1],"nice":false,"zero":false},"axis":null},"y":{"field":"y2","type":"quantitative","scale":{"domain":[0,1],"nice":false,"zero":false},"axis":null},"angle":{"field":"ang","type":"quantitative","scale":null}}}
],
"resolve":{"scale":{"x":"independent","y":"independent"}}}
],
"columns":4,"spacing":{"row":37,"column":68},"bounds":"flush",
"resolve":{"scale":{"color":"independent","stroke":"independent","x":"independent","y":"independent"}}},
{"concat":[
{"width":156,"height":161,"title":{"text":"ε₀ = 10.0 (burst)"},
"layer":[
{"data":{"name":"grid"},"transform":[{"filter":"datum.p==='E'"},{"flatten":["v"]},{"window":[{"op":"row_number","as":"i"}],"groupby":["j"]}],
"mark":{"type":"rect","strokeWidth":1},
"encoding":{"x":{"field":"i","type":"ordinal","axis":{"orient":"top","ticks":false,"labels":false,"domain":true,"title":null,"zindex":1},"scale":{"paddingInner":0,"paddingOuter":0}},"y":{"field":"j","type":"ordinal","axis":{"orient":"right","ticks":false,"labels":false,"domain":true,"title":null,"zindex":1},"sort":"descending","scale":{"paddingInner":0,"paddingOuter":0}},
"color":{"field":"v","type":"quantitative","scale":{"scheme":"viridis","domain":[0,100],"clamp":true},"legend":null},
"stroke":{"field":"v","type":"quantitative","scale":{"scheme":"viridis","domain":[0,100],"clamp":true},"legend":null}}},
{"data":{"values":[{"t":"E"}]},"mark":{"type":"text","color":"white","fontWeight":"bold","fontSize":15,"align":"left","baseline":"top","dx":4,"dy":5},
"encoding":{"x":{"datum":0,"type":"quantitative","scale":{"domain":[0,1],"nice":false,"zero":false},"axis":null},"y":{"datum":1,"type":"quantitative","scale":{"domain":[0,1],"nice":false,"zero":false},"axis":null},"text":{"field":"t"}}},
{"data":{"name":"arrows"},"transform":[{"filter":"datum.c===5"}],"mark":{"type":"rule","color":"red","strokeWidth":1.1},
"encoding":{"x":{"field":"x","type":"quantitative","scale":{"domain":[0,1],"nice":false,"zero":false},"axis":{"values":[0,0.1,0.2,0.3,0.4,0.5,0.6,0.7,0.8,0.9,1],"labels":false,"title":null,"zindex":1}},
"y":{"field":"y","type":"quantitative","scale":{"domain":[0,1],"nice":false,"zero":false},"axis":{"values":[0,0.1,0.2,0.3,0.4,0.5,0.6,0.7,0.8,0.9,1],"labels":false,"title":null,"zindex":1}},
"x2":{"field":"x2"},"y2":{"field":"y2"}}},
{"data":{"name":"arrows"},"transform":[{"filter":"datum.c===5 && datum.h"},{"calculate":"atan2(datum.x2-datum.x,datum.y2-datum.y)*180/PI","as":"ang"}],"mark":{"type":"point","shape":"M0,0L0.8,2L-0.8,2Z","filled":true,"color":"red","size":30,"opacity":1},
"encoding":{"x":{"field":"x2","type":"quantitative","scale":{"domain":[0,1],"nice":false,"zero":false},"axis":null},"y":{"field":"y2","type":"quantitative","scale":{"domain":[0,1],"nice":false,"zero":false},"axis":null},"angle":{"field":"ang","type":"quantitative","scale":null}}}
],
"resolve":{"scale":{"x":"independent","y":"independent"}}},
{"width":10,"height":161,
"layer":[
{"data":{"values":[{}]},"mark":{"type":"rect","color":{"gradient":"linear","x1":0,"y1":1,"x2":0,"y2":0,"stops":[{"offset":0,"color":"#440154"},{"offset":0.1,"color":"#482475"},{"offset":0.2,"color":"#414487"},{"offset":0.3,"color":"#355f8d"},{"offset":0.4,"color":"#2a788e"},{"offset":0.5,"color":"#21918c"},{"offset":0.6,"color":"#22a884"},{"offset":0.7,"color":"#44bf70"},{"offset":0.8,"color":"#7ad151"},{"offset":0.9,"color":"#bddf26"},{"offset":1,"color":"#fde725"}]},"stroke":"#333333","strokeWidth":1},"encoding":{}},
{"data":{"values":[{}]},"mark":{"type":"rule","opacity":0},
"encoding":{"y":{"datum":0,"type":"quantitative","scale":{"domain":[0,100],"nice":false,"zero":false},"axis":{"orient":"right","values":[0,20,40,60,80,100],"domain":false,"tickSize":4,"labelFontSize":14,"labelPadding":2,"title":"⟨n⟩ − σ","titleAngle":270,"titleBaseline":"top","titlePadding":3,"titleFontSize":14,"zindex":1}}}}
]},
{"width":156,"height":161,
"layer":[
{"data":{"name":"grid"},"transform":[{"filter":"datum.p==='J'"},{"flatten":["v"]},{"window":[{"op":"row_number","as":"i"}],"groupby":["j"]}],
"mark":{"type":"rect","strokeWidth":1},
"encoding":{"x":{"field":"i","type":"ordinal","axis":{"orient":"top","ticks":false,"labels":false,"domain":true,"title":null,"zindex":1},"scale":{"paddingInner":0,"paddingOuter":0}},"y":{"field":"j","type":"ordinal","axis":{"orient":"right","ticks":false,"labels":false,"domain":true,"title":null,"zindex":1},"sort":"descending","scale":{"paddingInner":0,"paddingOuter":0}},
"color":{"field":"v","type":"quantitative","scale":{"scheme":"viridis","reverse":true,"domain":[0,200],"clamp":true},"legend":null},
"stroke":{"field":"v","type":"quantitative","scale":{"scheme":"viridis","reverse":true,"domain":[0,200],"clamp":true},"legend":null}}},
{"data":{"values":[{"t":"J"}]},"mark":{"type":"text","color":"white","fontWeight":"bold","fontSize":15,"align":"left","baseline":"top","dx":4,"dy":5},
"encoding":{"x":{"datum":0,"type":"quantitative","scale":{"domain":[0,1],"nice":false,"zero":false},"axis":null},"y":{"datum":1,"type":"quantitative","scale":{"domain":[0,1],"nice":false,"zero":false},"axis":null},"text":{"field":"t"}}},
{"data":{"name":"arrows"},"transform":[{"filter":"datum.c===5"}],"mark":{"type":"rule","color":"red","strokeWidth":1.1},
"encoding":{"x":{"field":"x","type":"quantitative","scale":{"domain":[0,1],"nice":false,"zero":false},"axis":{"values":[0,0.1,0.2,0.3,0.4,0.5,0.6,0.7,0.8,0.9,1],"labelExpr":"round(datum.value*10)%2===0 ? format(datum.value,'~g') : ''","title":null,"zindex":1}},
"y":{"field":"y","type":"quantitative","scale":{"domain":[0,1],"nice":false,"zero":false},"axis":{"values":[0,0.1,0.2,0.3,0.4,0.5,0.6,0.7,0.8,0.9,1],"labels":false,"title":null,"zindex":1}},
"x2":{"field":"x2"},"y2":{"field":"y2"}}},
{"data":{"name":"arrows"},"transform":[{"filter":"datum.c===5 && datum.h"},{"calculate":"atan2(datum.x2-datum.x,datum.y2-datum.y)*180/PI","as":"ang"}],"mark":{"type":"point","shape":"M0,0L0.8,2L-0.8,2Z","filled":true,"color":"red","size":30,"opacity":1},
"encoding":{"x":{"field":"x2","type":"quantitative","scale":{"domain":[0,1],"nice":false,"zero":false},"axis":null},"y":{"field":"y2","type":"quantitative","scale":{"domain":[0,1],"nice":false,"zero":false},"axis":null},"angle":{"field":"ang","type":"quantitative","scale":null}}}
],
"resolve":{"scale":{"x":"independent","y":"independent"}}},
{"width":10,"height":161,
"layer":[
{"data":{"values":[{}]},"mark":{"type":"rect","color":{"gradient":"linear","x1":0,"y1":1,"x2":0,"y2":0,"stops":[{"offset":0,"color":"#fde725"},{"offset":0.1,"color":"#bddf26"},{"offset":0.2,"color":"#7ad151"},{"offset":0.3,"color":"#44bf70"},{"offset":0.4,"color":"#22a884"},{"offset":0.5,"color":"#21918c"},{"offset":0.6,"color":"#2a788e"},{"offset":0.7,"color":"#355f8d"},{"offset":0.8,"color":"#414487"},{"offset":0.9,"color":"#482475"},{"offset":1,"color":"#440154"}]},"stroke":"#333333","strokeWidth":1},"encoding":{}},
{"data":{"values":[{}]},"mark":{"type":"rule","opacity":0},
"encoding":{"y":{"datum":0,"type":"quantitative","scale":{"domain":[0,200],"nice":false,"zero":false},"axis":{"orient":"right","values":[0,50,100,150,200],"domain":false,"tickSize":4,"labelFontSize":14,"labelPadding":2,"title":"2σ̄","titleAngle":270,"titleBaseline":"top","titlePadding":3,"titleFontSize":14,"zindex":1}}}}
]}
],
"columns":2,"spacing":{"row":37,"column":10},"bounds":"flush","align":"each",
"resolve":{"scale":{"color":"independent","stroke":"independent","x":"independent","y":"independent"}}}
],
"spacing":40,
"resolve":{"scale":{"color":"independent","stroke":"independent","x":"independent","y":"independent"}}
}
